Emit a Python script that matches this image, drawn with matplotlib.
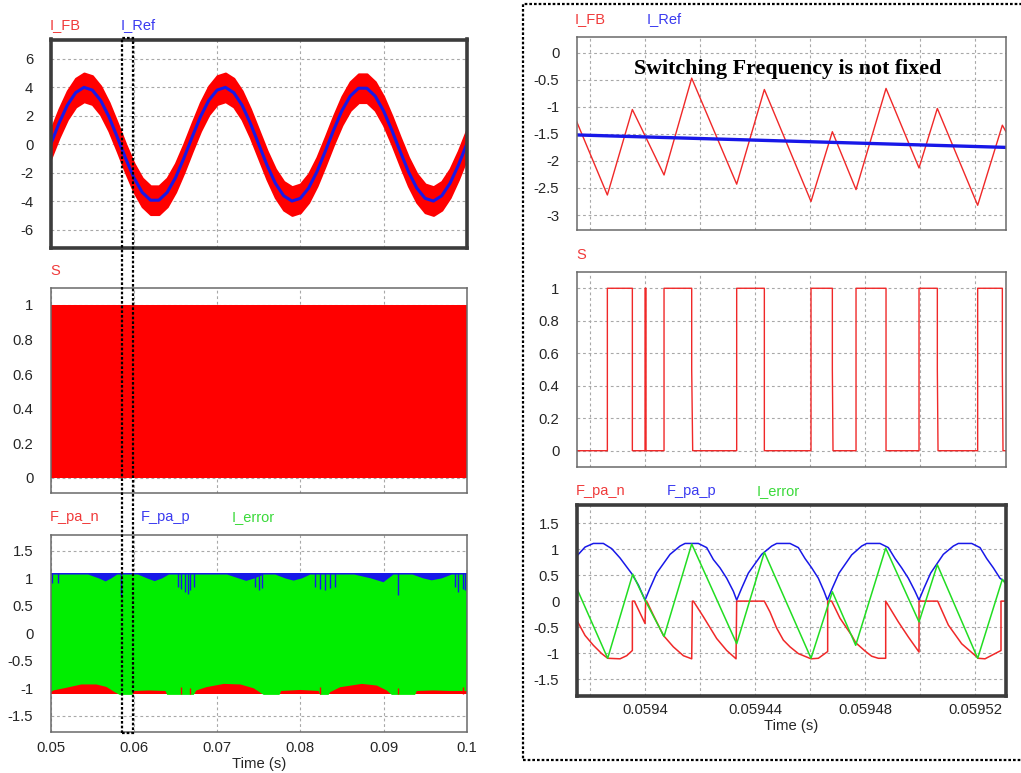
import numpy as np
import matplotlib
matplotlib.use('Agg')
import matplotlib.pyplot as plt
from matplotlib.patches import Rectangle

plt.rcParams['font.family'] = ['Liberation Sans', 'DejaVu Sans']
plt.rcParams['axes.unicode_minus'] = False

W, H = 1021, 773

RED = '#ff0000'
BLUE = '#1818e8'
GREEN = '#00ee00'
LBL_RED = '#f03a3a'
LBL_BLUE = '#3a3af0'
LBL_GREEN = '#3ada3a'
TICK_SIZE = 10.7

# ---------------- full run, 0.05 .. 0.1 s ----------------
T_START, T_END = 0.05, 0.1
left_ticks = [0.05, 0.06, 0.07, 0.08, 0.09, 0.1]
left_tick_labels = ['0.05', '0.06', '0.07', '0.08', '0.09', '0.1']

# reference current, one sample per ms
i_ref_full = [0.00, 1.47, 2.74, 3.62, 3.99, 3.80, 3.08, 1.93, 0.50, -0.99,
              -2.35, -3.38, -3.93, -3.93, -3.38, -2.35, -0.99, 0.50, 1.93, 3.08,
              3.80, 3.99, 3.62, 2.74, 1.47, 0.00, -1.47, -2.74, -3.62, -3.99,
              -3.80, -3.08, -1.93, -0.50, 0.99, 2.35, 3.38, 3.93, 3.93, 3.38,
              2.35, 0.99, -0.50, -1.93, -3.08, -3.80, -3.99, -3.62, -2.74, -1.47,
              0.00]
band_half = 1.0          # hysteresis band around the reference
s_on, s_off = 1.0, 0.0   # switch states

pa_p_max = 1.1
pa_n_min = -1.1

# upper edge of the I_error envelope
err_hi_t = [0.0500, 0.0545, 0.0558, 0.0566, 0.0573, 0.0580, 0.0605, 0.0616,
            0.0625, 0.0634, 0.0642, 0.0712, 0.0726, 0.0735, 0.0745, 0.0756,
            0.0770, 0.0782, 0.0792, 0.0802, 0.0812, 0.0865, 0.0885, 0.0900,
            0.0906, 0.0912, 0.0935, 0.0948, 0.0958, 0.0970, 0.0982, 0.1000]
err_hi = [1.07, 1.07, 1.00, 0.945, 1.00, 1.07, 1.07, 1.00,
          0.95, 1.00, 1.07, 1.07, 1.00, 0.955, 1.00, 1.07,
          1.07, 1.00, 0.96, 1.00, 1.07, 1.07, 1.00, 0.93,
          1.00, 1.07, 1.07, 1.00, 0.965, 1.00, 1.07, 1.07]

# lower edge of the I_error envelope
err_lo_t = [0.0500, 0.0503, 0.0519, 0.0537, 0.0555, 0.0567, 0.0577, 0.0583,
            0.0598, 0.0600, 0.0618, 0.0638, 0.0640, 0.0672, 0.0675, 0.0687,
            0.0708, 0.0728, 0.0744, 0.0756, 0.0775, 0.0777, 0.0800, 0.0822,
            0.0824, 0.0834, 0.0836, 0.0848, 0.0874, 0.0892, 0.0904, 0.0910,
            0.0938, 0.0940, 0.0960, 0.0980, 0.1000]
err_lo = [-1.08, -1.04, -0.99, -0.93, -0.93, -0.975, -1.07, -1.12,
          -1.12, -1.05, -1.04, -1.05, -1.12, -1.12, -1.04, -0.98,
          -0.92, -0.93, -1.00, -1.12, -1.12, -1.05, -1.03, -1.05,
          -1.12, -1.12, -1.07, -0.98, -0.92, -0.95, -1.04, -1.12,
          -1.12, -1.05, -1.04, -1.05, -1.05]

# narrow excursions seen at the edges
pap_spike_t = [0.0501, 0.0509, 0.0584, 0.0653, 0.0657, 0.0661, 0.0665, 0.0668,
               0.0672, 0.0746, 0.0750, 0.0754, 0.0818, 0.0824, 0.0830, 0.0836,
               0.0842, 0.0918, 0.0986, 0.0990, 0.0995, 0.0998]
pap_spike = [0.92, 0.92, 0.70, 0.85, 0.80, 0.76, 0.72, 0.78,
             0.85, 0.85, 0.79, 0.82, 0.85, 0.80, 0.79, 0.82,
             0.85, 0.70, 0.85, 0.76, 0.80, 0.78]
pan_spike_t = [0.0657, 0.0667, 0.0824, 0.0918, 0.0996]
pan_spike = [-0.98, -1.00, -0.97, -1.00, -0.98]

# ---------------- zoomed window, times in us after 0.0594 s ----------------
T0 = 0.0594
zoom_lim_us = (-24.85, 131.27)
zoom_major = [0.0594, 0.05944, 0.05948, 0.05952]
zoom_minor = [0.05938, 0.05942, 0.05946, 0.05950]
zoom_tick_labels = ['0.0594', '0.05944', '0.05948', '0.05952']

ifb_us = [-24.85, -13.70, -4.61, 6.91, 16.97, 33.33, 43.39, 60.36, 68.12,
          76.73, 87.64, 99.64, 106.30, 120.97, 129.94, 131.27]
ifb = [-1.275, -2.63, -1.05, -2.26, -0.47, -2.43, -0.68, -2.75, -1.46,
       -2.53, -0.66, -2.13, -1.03, -2.82, -1.34, -1.46]

iref_us = [-24.85, 53.0, 131.27]
iref = [-1.52, -1.635, -1.75]

s_us = [-24.85, -13.70, -13.70, -4.61, -4.61, 0.0, 0.0, 0.36, 0.36, 6.91,
        6.91, 16.97, 16.97, 17.33, 33.33, 33.33, 43.39, 43.39, 60.36, 60.36,
        68.12, 68.12, 68.36, 76.73, 76.73, 87.64, 87.64, 99.64, 99.64, 106.30,
        106.30, 106.55, 120.97, 120.97, 129.94, 129.94, 130.18, 131.27]
s_val = [0, 0, 1, 1, 0, 0, 1, 1, 0, 0,
         1, 1, 0.5, 0, 0, 1, 1, 0, 0, 1,
         1, 0.5, 0, 0, 1, 1, 0, 0, 1, 1,
         0.5, 0, 0, 1, 1, 0.5, 0, 0]

pap_us = [-24.85, -21.82, -18.79, -15.15, -12.12, -9.09, -4.85, -2.42, 0.0,
          1.82, 4.24, 9.09, 12.73, 14.55, 19.39, 22.42, 24.85, 27.27, 29.70, 32.12, 33.33,
          35.15, 37.58, 42.42, 46.06, 47.88, 52.73, 55.76, 58.18, 60.61, 63.03, 65.09, 66.30,
          68.12, 70.55, 75.15, 78.79, 80.61, 85.45, 88.48, 90.91, 93.33, 95.76, 98.18, 99.64,
          101.45, 103.88, 108.48, 112.12, 113.94, 118.79, 121.82, 124.24, 126.67, 129.09, 131.27]
pap = [0.865, 1.04, 1.11, 1.11, 1.01, 0.83, 0.53, 0.31, 0.02,
       0.25, 0.54, 0.90, 1.06, 1.11, 1.11, 1.03, 0.80, 0.64, 0.44, 0.19, 0.02,
       0.25, 0.54, 0.90, 1.06, 1.11, 1.11, 1.03, 0.82, 0.64, 0.44, 0.19, 0.02,
       0.25, 0.54, 0.89, 1.06, 1.11, 1.11, 1.03, 0.82, 0.64, 0.44, 0.19, 0.02,
       0.25, 0.54, 0.90, 1.06, 1.11, 1.11, 1.03, 0.82, 0.64, 0.44, 0.36]

pan_us = [-24.85, -21.82, -18.79, -15.76, -13.58, -9.09, -6.67, -4.61, -4.61, -3.88,
          0.0, 0.24, 0.61, 3.03, 6.67, 10.30, 13.94, 16.97, 17.21, 17.58,
          21.21, 26.06, 29.70, 33.09, 33.33, 43.39, 45.45, 47.88, 50.30, 52.73,
          55.76, 60.36, 63.03, 66.42, 66.42, 67.88, 70.91, 75.15, 76.61, 80.00,
          82.40, 84.85, 87.52, 87.52, 92.12, 95.76, 99.64, 99.64, 106.42, 110.30,
          115.15, 121.21, 123.64, 127.27, 129.45, 129.45, 131.27]
pan = [-0.365, -0.66, -0.85, -1.01, -1.10, -1.11, -1.05, -0.95, 0.0, 0.0,
       -0.43, 0.0, 0.0, -0.27, -0.66, -0.88, -1.05, -1.11, 0.0, 0.0,
       -0.30, -0.72, -0.95, -1.11, 0.0, 0.0, -0.21, -0.52, -0.75, -0.88,
       -1.01, -1.11, -1.10, -0.97, 0.0, 0.0, -0.33, -0.66, -0.80, -0.96,
       -1.06, -1.10, -1.10, 0.0, -0.40, -0.69, -0.98, 0.0, 0.0, -0.46,
       -0.82, -1.10, -1.11, -1.01, -0.95, 0.0, 0.0]

err_us = [-24.85, -13.58, -4.48, 0.0, 6.91, 16.97, 33.33, 43.39, 60.36, 68.12,
          76.61, 87.52, 99.64, 106.30, 120.97, 129.94, 131.27]
err = [0.25, -1.10, 0.52, 0.02, -0.68, 1.10, -0.82, 0.94, -1.10, 0.18,
       -0.85, 1.02, -0.40, 0.70, -1.10, 0.42, 0.32]

yt_ifb_full = [-6, -4, -2, 0, 2, 4, 6]
yt_ifb_zoom = [0, -0.5, -1, -1.5, -2, -2.5, -3]
yt_s = [0, 0.2, 0.4, 0.6, 0.8, 1]
yt_pa = [1.5, 1, 0.5, 0, -0.5, -1, -1.5]


def us(vals):
    return T0 + np.asarray(vals) * 1e-6


def add_axes_px(fig, left, top, right, bottom):
    return fig.add_axes([left / W, 1 - bottom / H, (right - left) / W, (bottom - top) / H])


def style(ax, yticks, thick=False):
    for s in ax.spines.values():
        s.set_linewidth(2.6 if thick else 1.1)
        s.set_edgecolor('#3c3c3c' if thick else '#6a6a6a')
    ax.set_yticks(yticks)
    ax.set_yticklabels([('%g' % v) for v in yticks])
    ax.tick_params(which='both', length=0, labelsize=TICK_SIZE, colors='#262626', pad=12.5)
    ax.grid(True, which='both', color='#a8a8a8', linestyle=(0, (2.5, 2.5)), linewidth=0.8)
    ax.set_axisbelow(True)


def label(fig, x, y, text, color):
    fig.text(x / W, 1 - y / H, text, color=color, fontsize=10.5, va='center', ha='left')


fig = plt.figure(figsize=(W / 100, H / 100), dpi=100)

# ---- left column ----
L, R = 50.7, 466.7
ref_t = np.linspace(T_START, T_END, len(i_ref_full))
ref = np.asarray(i_ref_full)

ax1 = add_axes_px(fig, L, 39.5, R, 247.5)
ax1.fill_between(ref_t, ref - band_half, ref + band_half, color=RED, ec=RED, lw=1.6)
ax1.plot(ref_t, ref, color=BLUE, lw=2.2)
ax1.set_xlim(T_START, T_END)
ax1.set_ylim(-7.25, 7.35)
ax1.set_xticks(left_ticks)
style(ax1, yt_ifb_full, thick=True)
ax1.tick_params(labelbottom=False)
label(fig, 50, 25, 'I_FB', LBL_RED)
label(fig, 121, 25, 'I_Ref', LBL_BLUE)

ax2 = add_axes_px(fig, L, 287.7, R, 493.3)
ax2.fill_between([T_START, T_END], s_off, s_on, color=RED, lw=0)
ax2.set_xlim(T_START, T_END)
ax2.set_ylim(-0.09, 1.1)
ax2.set_xticks(left_ticks)
style(ax2, yt_s)
ax2.tick_params(labelbottom=False)
label(fig, 50, 271, 'S', LBL_RED)

ax3 = add_axes_px(fig, L, 535, R, 731.7)
ax3.fill_between([T_START, T_END], 0, pa_p_max, color=BLUE, lw=0)
ax3.fill_between([T_START, T_END], pa_n_min, 0, color=RED, lw=0)
ax3.fill(np.concatenate([err_hi_t, err_lo_t[::-1]]),
         np.concatenate([err_hi, err_lo[::-1]]), color=GREEN, lw=0)
ax3.vlines(pap_spike_t, pap_spike, pa_p_max, color=BLUE, lw=1)
ax3.vlines(pan_spike_t, pa_n_min, pan_spike, color=RED, lw=1)
ax3.set_xlim(T_START, T_END)
ax3.set_ylim(-1.79, 1.79)
ax3.set_xticks(left_ticks)
ax3.set_xticklabels(left_tick_labels)
style(ax3, yt_pa)
ax3.tick_params(axis='x', pad=6.5)
ax3.set_xlabel('Time (s)', fontsize=TICK_SIZE, color='#262626', labelpad=1.5)
label(fig, 50, 517, 'F_pa_n', LBL_RED)
label(fig, 141, 517, 'F_pa_p', LBL_BLUE)
label(fig, 232, 517, 'I_error', LBL_GREEN)

# ---- right column ----
RL, RR = 576.7, 1006
xlim_zoom = us(zoom_lim_us)

ax4 = add_axes_px(fig, RL, 36.7, RR, 230)
ax4.plot(us(ifb_us), ifb, color='#f02828', lw=1.0)
ax4.plot(us(iref_us), iref, color=BLUE, lw=2.4)
ax4.set_ylim(-3.277, 0.296)
label(fig, 575, 19.5, 'I_FB', LBL_RED)
label(fig, 647, 19.5, 'I_Ref', LBL_BLUE)
fig.text(788 / W, 1 - 69 / H, 'Switching Frequency is not fixed',
         family='Liberation Serif', fontweight='bold', fontsize=15.8,
         ha='center', va='center', color='black')

ax5 = add_axes_px(fig, RL, 271.7, RR, 466.7)
ax5.plot(us(s_us), s_val, color='#f02828', lw=1.0)
ax5.set_ylim(-0.0985, 1.102)
label(fig, 576, 255, 'S', LBL_RED)

ax6 = add_axes_px(fig, RL, 505, RR, 695.7)
ax6.plot(us(pap_us), pap, color=BLUE, lw=1.1)
ax6.plot(us(pan_us), pan, color='#f02828', lw=1.1)
ax6.plot(us(err_us), err, color='#22dd22', lw=1.1)
ax6.set_ylim(-1.82, 1.85)
label(fig, 576, 491, 'F_pa_n', LBL_RED)
label(fig, 667, 491, 'F_pa_p', LBL_BLUE)
label(fig, 757, 491, 'I_error', LBL_GREEN)

for ax, yt, thick in ((ax4, yt_ifb_zoom, False), (ax5, yt_s, False), (ax6, yt_pa, True)):
    ax.set_xlim(*xlim_zoom)
    ax.set_xticks(zoom_major)
    ax.set_xticks(zoom_minor, minor=True)
    style(ax, yt, thick=thick)
    ax.tick_params(labelbottom=False)

ax6.tick_params(labelbottom=True, axis='x', pad=5)
ax6.set_xticklabels(zoom_tick_labels)
ax6.set_xlabel('Time (s)', fontsize=TICK_SIZE, color='#262626', labelpad=1.5)

# dotted frames: zoom window on the left, zoomed view on the right
for (x0, y0, x1, y1) in ((122, 37.5, 133, 733), (523, 4, 1030, 760)):
    fig.add_artist(Rectangle((x0 / W, 1 - y1 / H), (x1 - x0) / W, (y1 - y0) / H,
                             transform=fig.transFigure, fill=False, ec='black',
                             lw=1.6, ls=(0, (1.2, 0.9)), clip_on=False))

fig.savefig('out.png', dpi=100)
